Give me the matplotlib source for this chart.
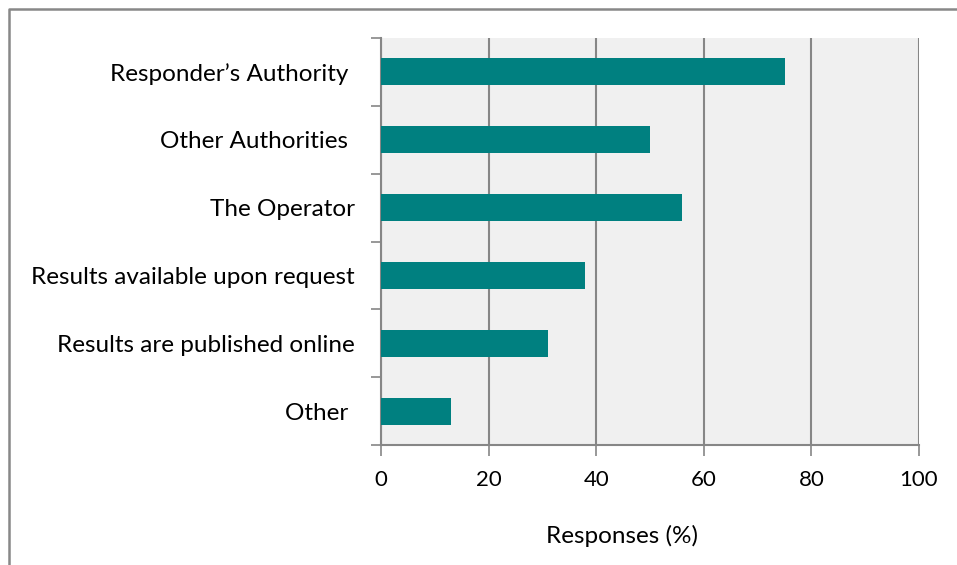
import matplotlib
matplotlib.use("Agg")
import matplotlib.pyplot as plt
from matplotlib.lines import Line2D

categories = ["Responder\u2019s Authority ", "Other Authorities ", "The Operator",
              "Results available upon request", "Results are published online", "Other "]
values = [75, 50, 56, 38, 31, 13]
xticks = [0, 20, 40, 60, 80, 100]

plt.rcParams['font.family'] = ['Lato', 'DejaVu Sans']

fig = plt.figure(figsize=(9.57, 5.65), dpi=100)
ax = fig.add_axes([381/957, 1-445/565, (919-381)/957, (445-38)/565])
ax.set_facecolor('#f0f0f0')

n = len(categories)
pos = list(range(n))
ax.barh(pos, values, height=0.4, color='#008080', zorder=3)
ax.set_ylim(n - 0.5, -0.5)
ax.set_xlim(0, 100)
ax.set_xticks(xticks)
ax.set_xticklabels([str(t) for t in xticks], fontsize=16)
ax.xaxis.grid(True, color='#868686', linewidth=1.5, zorder=1)
ax.set_axisbelow(True)

ax.set_yticks([i - 0.5 for i in range(n + 1)], minor=False)
ax.set_yticklabels([])
ax.set_yticks(pos, minor=True)
ax.set_yticklabels(categories, minor=True, fontsize=17.5)
ax.tick_params(axis='y', which='minor', length=0, pad=19)
ax.tick_params(axis='y', which='major', length=7, color='#868686', width=1.2)
ax.tick_params(axis='x', length=8, color='#868686', width=1.2, pad=10)

for s in ['top', 'right']:
    ax.spines[s].set_visible(False)
for s in ['left', 'bottom']:
    ax.spines[s].set_color('#868686')
    ax.spines[s].set_linewidth(1.5)

ax.set_xlabel("Responses (%)", fontsize=17.5, va='center')
ax.xaxis.set_label_coords((622 - 381) / 538, (445 - 536) / 407)

fig.add_artist(Line2D([8.5/957, 8.5/957, 1.0], [0, 1-8.5/565, 1-8.5/565],
                      transform=fig.transFigure, color='#888888', linewidth=1.8))

fig.savefig("out.png", dpi=100)
